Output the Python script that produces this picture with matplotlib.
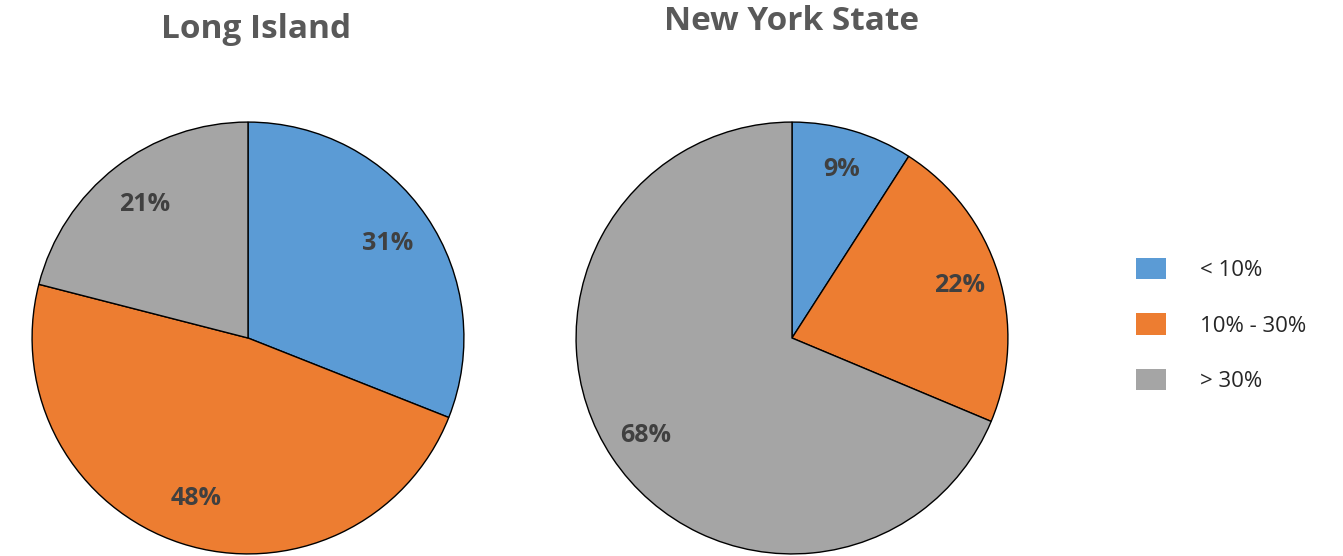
import matplotlib
matplotlib.use("Agg")
import matplotlib.pyplot as plt
from matplotlib.patches import Patch

categories = ["< 10%", "10% - 30%", "> 30%"]
long_island = [31, 48, 21]
new_york_state = [9, 22, 68]
titles = ["Long Island", "New York State"]
colors = ["#5B9BD5", "#ED7D31", "#A5A5A5"]

W, H = 1343, 556
fig = plt.figure(figsize=(W / 100, H / 100), dpi=100)
fig.patch.set_facecolor("white")

R = 217
centers = [(248, 338), (792, 338)]
label_dist = [0.78, 0.815]
title_pos = [(256, 29), (791, 22)]

for vals, (cx, cy), ld, title, (tx, ty) in zip(
        [long_island, new_york_state], centers, label_dist, titles, title_pos):
    ax = fig.add_axes([(cx - R) / W, (H - cy - R) / H, 2 * R / W, 2 * R / H])
    wedges, texts = ax.pie(
        vals, colors=colors, startangle=90, counterclock=False,
        labels=[f"{v}%" for v in vals], labeldistance=ld,
        wedgeprops=dict(edgecolor="black", linewidth=1.0),
        textprops=dict(color="#404040", fontsize=18, fontweight="bold",
                       family="Open Sans", ha="center", va="center"),
    )
    for t in texts:
        t.set_ha("center")
        t.set_va("center")
    ax.set_xlim(-1.005, 1.005)
    ax.set_ylim(-1.005, 1.005)
    ax.set_aspect("equal")
    ax.axis("off")
    fig.text(tx / W, 1 - ty / H, title, ha="center", va="center",
             fontsize=24, fontweight="bold", color="#595959", family="Open Sans")

handles = [Patch(facecolor=c, edgecolor="none") for c in colors]
fig.legend(handles, categories, loc="upper left",
           bbox_to_anchor=(1116 / W, 1 - 238 / H), frameon=False,
           prop=dict(family="Open Sans", size=16),
           handlelength=1.36, handleheight=1.1, handletextpad=1.5,
           labelspacing=1.45, labelcolor="#262626")

fig.savefig("out.png", dpi=100, facecolor="white")
